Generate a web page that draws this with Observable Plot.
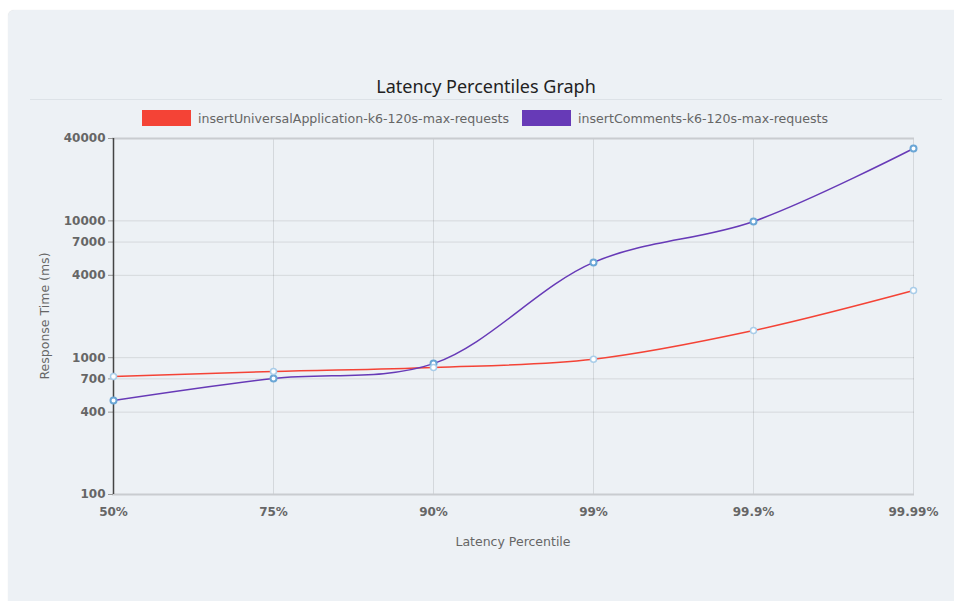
<!DOCTYPE html>
<html><head><meta charset="utf-8">
<script src="https://cdn.jsdelivr.net/npm/d3@7"></script>
<script src="https://cdn.jsdelivr.net/npm/@observablehq/plot@0.6"></script>
<style>
html,body{margin:0;padding:0;background:#fff;width:954px;height:601px;overflow:hidden;font-family:"DejaVu Sans","Liberation Sans",Arial,sans-serif;}
#card{position:absolute;left:8px;top:10px;width:946px;height:591px;background:#edf1f5;border-top-left-radius:6px;box-shadow:0 0 1px rgba(0,0,0,0.15);}
#title{position:absolute;left:0;width:972px;top:74px;text-align:center;font-size:18px;color:#222;font-family:"Noto Sans","Liberation Sans",sans-serif;}
#divider{position:absolute;left:30px;width:912px;top:99px;height:1px;background:#dde2e7;}
.leg{position:absolute;top:110px;font-size:12.6px;color:#666;white-space:nowrap;display:flex;align-items:center;}
.sw{display:inline-block;width:47px;height:14px;margin-right:7px;border:1px solid;}
#chart{position:absolute;left:0;top:0;}
#ylab{position:absolute;left:44px;top:316px;transform:translate(-50%,-50%) rotate(-90deg);font-size:12.5px;color:#666;white-space:nowrap;}
#xlab{position:absolute;left:513px;top:541px;transform:translate(-50%,-50%);font-size:12.5px;color:#666;white-space:nowrap;}
</style></head>
<body>
<div id="card"></div>
<div id="title">Latency Percentiles Graph</div>
<div id="divider"></div>
<div id="legend"></div>
<div id="chart"></div>
<div id="ylab">Response Time (ms)</div>
<div id="xlab">Latency Percentile</div>
<script>
const percentiles = ["50%", "75%", "90%", "99%", "99.9%", "99.99%"];
const seriesNames = ["insertUniversalApplication-k6-120s-max-requests", "insertComments-k6-120s-max-requests"];
const universalValues = [729, 793, 848, 975, 1580, 3100];
const commentsValues = [486, 705, 905, 4970, 9900, 33800];
const yTicks = [100, 400, 700, 1000, 4000, 7000, 10000, 40000];
const lineColors = ["#f44336", "#673ab7"];
const pointColors = ["#a9cde9", "#6aa6d6"];

const rows = [];
[universalValues, commentsValues].forEach((vals, si) => {
  vals.forEach((v, i) => rows.push({series: seriesNames[si], p: percentiles[i], v}));
});

// legend
const legend = document.getElementById("legend");
const legX = [142, 522];
seriesNames.forEach((n, i) => {
  const d = document.createElement("div");
  d.className = "leg";
  d.style.left = legX[i] + "px";
  d.innerHTML = `<span class="sw" style="background:${lineColors[i]};border-color:${lineColors[i]}"></span>${n}`;
  legend.appendChild(d);
});

const chart = Plot.plot({
  width: 954,
  height: 601,
  marginTop: 138,
  marginBottom: 107,
  marginLeft: 112,
  marginRight: 40,
  style: {background: "transparent", fontFamily: "DejaVu Sans, Liberation Sans, Arial, sans-serif", fontSize: "12px", color: "#666"},
  x: {type: "point", domain: percentiles, padding: 0, label: null},
  y: {type: "log", domain: [100, 40000], label: null, axis: null},
  color: {domain: seriesNames, range: lineColors},
  marks: [
    Plot.ruleY(yTicks, {stroke: "#000", strokeOpacity: 0.1}),
    Plot.ruleX(percentiles, {stroke: "#000", strokeOpacity: 0.1}),
    Plot.ruleY([100, 40000], {stroke: "#c9ccd0", strokeWidth: 2}),
    Plot.ruleY(yTicks, {y: d => d, x1: () => percentiles[0], x2: () => percentiles[0], insetLeft: -5, stroke: "#999"}),
    Plot.ruleX([percentiles[0]], {stroke: "#444", strokeWidth: 1.5}),
    Plot.text(yTicks, {y: d => d, x: () => percentiles[0], text: d => String(d), dx: -8, textAnchor: "end", fontWeight: "bold", fill: "#666", fontSize: 12}),
    Plot.axisX({tickSize: 0, tickPadding: 13, fontWeight: "bold", fill: "#666"}),
    Plot.line(rows, {x: "p", y: "v", z: "series", stroke: "series", strokeWidth: 1.5, curve: "catmull-rom"}),
    Plot.dot(rows.filter(r => r.series === seriesNames[1]), {x: "p", y: "v", r: 3, fill: "white", stroke: pointColors[1], strokeWidth: 2}),
    Plot.dot(rows.filter(r => r.series === seriesNames[0]), {x: "p", y: "v", r: 3, fill: "white", stroke: pointColors[0], strokeWidth: 1.5})
  ]
});
document.getElementById("chart").appendChild(chart);
</script>
</body></html>
